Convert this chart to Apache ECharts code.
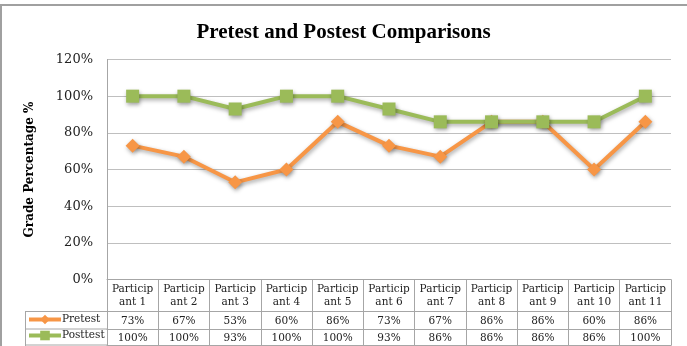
<!DOCTYPE html>
<html><head><meta charset="utf-8">
<script src="https://cdn.jsdelivr.net/npm/echarts@6/dist/echarts.min.js"></script>
<style>html,body{margin:0;padding:0;background:#fff}#c{width:687px;height:346px}</style>
</head><body><div id="c"></div>
<script>
const categories = ['Participant 1','Participant 2','Participant 3','Participant 4','Participant 5','Participant 6','Participant 7','Participant 8','Participant 9','Participant 10','Participant 11'];
const pretest = [73, 67, 53, 60, 86, 73, 67, 86, 86, 60, 86];
const posttest = [100, 100, 93, 100, 100, 93, 86, 86, 86, 86, 100];
const yTicks = [0, 20, 40, 60, 80, 100, 120];

const chart = echarts.init(document.getElementById('c'), null, {renderer: 'canvas'});
const serif = 'DejaVu Serif';
const lineGray = '#BFBFBF';
const tableGray = '#A6A6A6';
const shadow = {shadowBlur: 4, shadowColor: 'rgba(0,0,0,0.35)', shadowOffsetX: 1, shadowOffsetY: 2};

function rowAxis(offset, values, showLabel) {
  return {
    type: 'category', data: categories, position: 'bottom', offset: offset,
    boundaryGap: true,
    axisLine: {show: true, lineStyle: {color: tableGray, width: 1}},
    axisTick: {show: false},
    axisLabel: {show: showLabel, interval: 0, margin: 4, fontFamily: serif, fontSize: 10.5, color: '#222',
      formatter: (v, i) => values ? values[i] + '%' : ''}
  };
}

chart.setOption({
  backgroundColor: '#fff',
  animation: false,
  title: {text: 'Pretest and Postest Comparisons', left: 'center', top: 17,
    textStyle: {fontFamily: 'Liberation Serif', fontWeight: 'bold', fontSize: 21, color: '#000'}},
  legend: {orient: 'vertical', left: 27, top: 314, padding: 0, itemWidth: 32, itemHeight: 12, itemGap: 5,
    data: ['Pretest', 'Posttest'],
    lineStyle: {width: 4},
    textStyle: {fontFamily: serif, fontSize: 10.5, color: '#222', padding: [0, 0, 0, -4]}},
  grid: {left: 107, right: 16, top: 59.5, bottom: 66.5, containLabel: false},
  xAxis: [
    {type: 'category', data: categories, boundaryGap: true, position: 'bottom',
     axisLine: {show: true, lineStyle: {color: tableGray, width: 1}},
     axisTick: {show: true, interval: 0, length: 66, lineStyle: {color: tableGray, width: 1}},
     axisLabel: {interval: 0, margin: 3, fontFamily: serif, fontSize: 10.5, lineHeight: 13, color: '#222',
       formatter: v => v.slice(0, 8) + '\n' + v.slice(8)}},
    rowAxis(32, pretest, true),
    rowAxis(49.5, posttest, true),
    rowAxis(65.5, null, false)
  ],
  yAxis: {type: 'value', min: 0, max: 120, interval: 20,
    name: 'Grade Percentage %', nameLocation: 'middle', nameGap: 71, nameRotate: 90,
    nameTextStyle: {fontFamily: serif, fontWeight: 'bold', fontSize: 12, color: '#000'},
    axisLine: {show: true, lineStyle: {color: tableGray, width: 1}},
    axisTick: {show: false},
    splitLine: {show: true, lineStyle: {color: lineGray, width: 1}},
    axisLabel: {margin: 14, fontFamily: serif, fontSize: 13, color: '#222', formatter: v => v + '%'}},
  graphic: [
    {type: 'line', shape: {x1: 1, y1: 5, x2: 1, y2: 346}, style: {stroke: '#A0A0A0', lineWidth: 2}, silent: true},
    {type: 'line', shape: {x1: 0, y1: 5, x2: 687, y2: 5}, style: {stroke: '#A0A0A0', lineWidth: 2}, silent: true},
    {type: 'line', shape: {x1: 25, y1: 311.5, x2: 107, y2: 311.5}, style: {stroke: tableGray, lineWidth: 1}, silent: true},
    {type: 'line', shape: {x1: 25, y1: 329, x2: 107, y2: 329}, style: {stroke: tableGray, lineWidth: 1}, silent: true},
    {type: 'line', shape: {x1: 25, y1: 345, x2: 107, y2: 345}, style: {stroke: tableGray, lineWidth: 1}, silent: true},
    {type: 'line', shape: {x1: 25.5, y1: 311.5, x2: 25.5, y2: 346}, style: {stroke: tableGray, lineWidth: 1}, silent: true}
  ],
  series: [
    {name: 'Pretest', type: 'line', data: pretest, symbol: 'diamond', symbolSize: 14,
     color: '#F79646', lineStyle: Object.assign({width: 4, color: '#F79646'}, shadow),
     itemStyle: Object.assign({color: '#F79646'}, shadow)},
    {name: 'Posttest', type: 'line', data: posttest, symbol: 'rect', symbolSize: 13,
     color: '#9BBB59', lineStyle: Object.assign({width: 4, color: '#9BBB59'}, shadow),
     itemStyle: Object.assign({color: '#9BBB59'}, shadow)}
  ]
});
</script></body></html>
